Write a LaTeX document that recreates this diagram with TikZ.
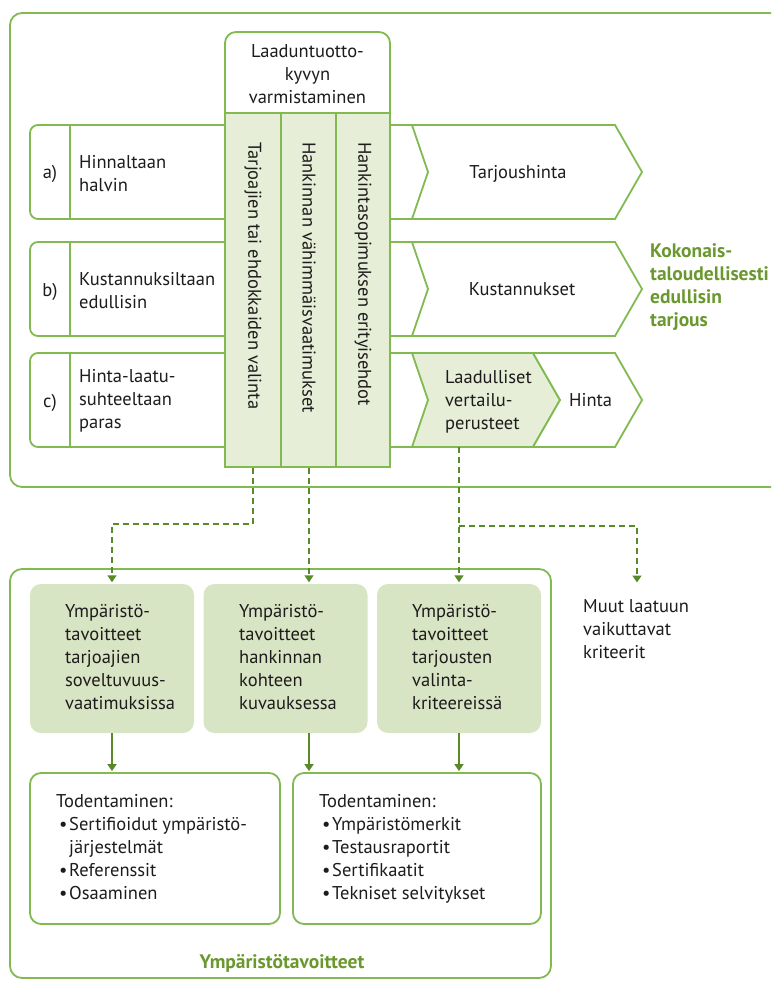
\documentclass[tikz,border=0pt]{standalone}
\usepackage{fontspec}
\setmainfont{PT Sans}
\usetikzlibrary{arrows.meta,calc}
\definecolor{gline}{RGB}{128,186,80}
\definecolor{gcol}{RGB}{230,238,216}
\definecolor{gboxfill}{RGB}{216,229,196}
\definecolor{garrow}{RGB}{88,138,40}
\definecolor{gtext}{RGB}{106,152,46}
\definecolor{ink}{RGB}{30,27,28}
\newcommand\fstr{\rule{0pt}{16pt}}
\newcommand\bul{\makebox[13pt][l]{\hspace{3pt}•}}
\begin{document}
\begin{tikzpicture}[x=1pt,y=-1pt,
  every node/.style={font=\fontsize{18.5}{23}\selectfont,text=ink},
  outl/.style={draw=gline,line width=1.8pt},
  tx/.style={inner sep=0pt,align=left,anchor=north west},
  tc/.style={inner sep=0pt,anchor=base},
  colbox/.style={outl,fill=gcol,minimum height=354pt,inner sep=0pt},
  gbx/.style={fill=gboxfill,rounded corners=11pt,minimum width=164pt,minimum height=149pt,inner sep=0pt},
  wbx/.style={outl,fill=white,rounded corners=11pt,minimum height=151pt,inner sep=0pt},
  dline/.style={draw=garrow,line width=1.6pt,dash pattern=on 6pt off 4pt,-{Triangle[width=9pt,length=7pt]},shorten >=1.5pt},
  sline/.style={draw=garrow,line width=2.2pt,-{Triangle[width=9pt,length=7pt]},shorten >=1pt},
  glab/.style={inner sep=0pt,text=gtext,font=\fontsize{19.5}{23}\selectfont\bfseries},
  coltext/.style={inner sep=0pt,rotate=-90,anchor=west}
]
\useasboundingbox (0,0) rectangle (771,981);

% outer boxes
\draw[outl,rounded corners=12pt] (771,13) -- (10,13) -- (10,487) -- (771,487);
\draw[outl,rounded corners=12pt] (10,569) rectangle (551,978);

% rows
\foreach \t in {125,242,353}{
  \draw[outl,fill=white,rounded corners=8pt] (30,\t) rectangle (428,\t+94);
  \draw[outl] (70,\t) -- (70,\t+94);
}
\draw[outl,fill=white] (412,125) -- (615,125) -- (642,172) -- (615,219) -- (412,219) -- (428,172) -- cycle;
\draw[outl,fill=white] (412,242) -- (615,242) -- (642,289) -- (615,336) -- (412,336) -- (428,289) -- cycle;
\draw[outl,fill=gcol] (412,353) -- (533,353) -- (560,400) -- (533,447) -- (412,447) -- (428,400) -- cycle;
\draw[outl,fill=white] (533,353) -- (615,353) -- (642,400) -- (615,447) -- (533,447) -- (560,400) -- cycle;

% header and columns
\draw[outl,fill=white,rounded corners=11pt] (225,32) rectangle (390,140);
\node[colbox,minimum width=56pt] (c1) at (253,290) {};
\node[colbox,minimum width=55pt] (c2) at (309,290) {};
\node[colbox,minimum width=54pt] (c3) at (363,290) {};
\node[inner sep=0pt,align=center,anchor=north] (hdr) at (307.5,41) {\fstr Laaduntuotto-\\kyvyn\\varmistaminen};
\node[coltext] (c1t) at (253,142) {Tarjoajien tai ehdokkaiden valinta};
\node[coltext] (c2t) at (309,142) {Hankinnan vähimmäisvaatimukset};
\node[coltext] (c3t) at (363,142) {Hankintasopimuksen erityisehdot};

% row texts
\node[tc] (la) at (50,179) {a)};
\node[tc] (lb) at (50,296) {b)};
\node[tc] (lc) at (50,407) {c)};
\node[tx] (ra) at (79,152) {\fstr Hinnaltaan\\halvin};
\node[tx] (rb) at (79,269) {\fstr Kustannuksiltaan\\edullisin};
\node[tx] (rc) at (79,366) {\fstr Hinta-laatu-\\suhteeltaan\\paras};
\node[tc] (t1) at (518,179) {Tarjoushinta};
\node[tc] (t2) at (522,295) {Kustannukset};
\node[tx] (t3) at (445,367) {\fstr Laadulliset\\vertailu-\\perusteet};
\node[inner sep=0pt,anchor=base west] (t4) at (569,406) {Hinta};
\node[glab,align=left,anchor=north west] (kok) at (650,241) {\fstr Kokonais-\\taloudellisesti\\edullisin\\tarjous};

% lower boxes
\node[gbx] (g1) at (112,658.5) {};
\node[gbx] (g2) at (285.5,658.5) {};
\node[gbx] (g3) at (459,658.5) {};
\node[tx] (g1t) at (65,601) {\fstr Ympäristö-\\tavoitteet\\tarjoajien\\soveltuvuus-\\vaatimuksissa};
\node[tx] (g2t) at (239,601) {\fstr Ympäristö-\\tavoitteet\\hankinnan\\kohteen\\kuvauksessa};
\node[tx] (g3t) at (412,601) {\fstr Ympäristö-\\tavoitteet\\tarjousten\\valinta-\\kriteereissä};
\node[tx] (muut) at (583,596) {\fstr Muut laatuun\\vaikuttavat\\kriteerit};

\node[wbx,minimum width=250pt] (w1) at (155,848.5) {};
\node[wbx,minimum width=248pt] (w2) at (417,848.5) {};
\node[tx] (w1t) at (56,791) {\fstr Todentaminen:\\\bul Sertifioidut ympäristö-\\\hspace*{13pt}järjestelmät\\\bul Referenssit\\\bul Osaaminen};
\node[tx] (w2t) at (319,791) {\fstr Todentaminen:\\\bul Ympäristömerkit\\\bul Testausraportit\\\bul Sertifikaatit\\\bul Tekniset selvitykset};
\node[glab,anchor=base] (ylab) at (282,968) {Ympäristötavoitteet};

% connectors
\coordinate (lvb) at (459,447);
\coordinate (br) at (459,526);
\coordinate (mt) at (637,584);
\draw[dline] (c1.south) -- ++(0,56) -| (g1.north);
\draw[dline] (c2.south) -- (c2.south |- g2.north);
\draw[dline] (lvb) -- (g3.north);
\draw[dline] (br) -| (mt);
\draw[sline] (g1.south) -- (g1.south |- w1.north);
\draw[sline] (c2.south |- g2.south) -- (c2.south |- w2.north);
\draw[sline] (g3.south) -- (g3.south |- w2.north);
\end{tikzpicture}
\end{document}
